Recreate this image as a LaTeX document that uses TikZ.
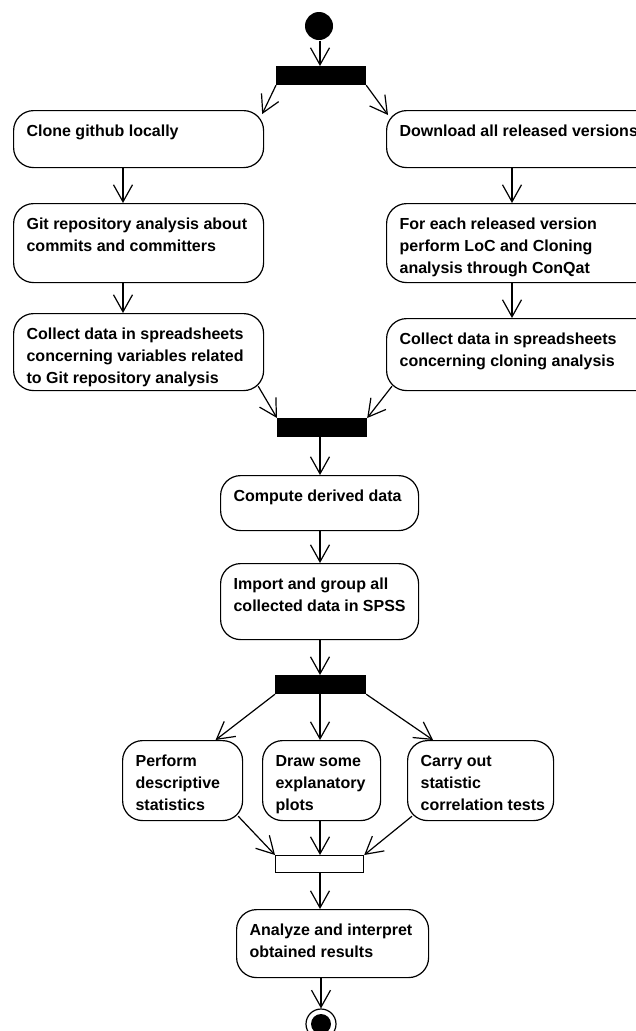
\documentclass[tikz,border=0pt]{standalone}
\usepackage{fontspec}
\setmainfont{Liberation Sans}
\usetikzlibrary{arrows.meta}

% top aligned text block of an action box: width, height, text
\newcommand{\acttext}[3]{\parbox[c][#2pt][t]{#1pt}{#3}}

\begin{document}
\begin{tikzpicture}[x=1pt,y=-1pt,line width=1.2pt,
		>={Straight Barb[length=17pt,width=19pt]},
		act/.style={draw, rounded corners=20pt, inner xsep=13pt, inner ysep=14.5pt,
			anchor=north west, font=\fontsize{16}{22}\selectfont\bfseries},
		bar/.style={draw, fill=black, minimum width=89pt, minimum height=18pt,
			inner sep=0pt, anchor=north west}]
		
		\useasboundingbox (0,0) rectangle (636,1031);
		
		% Columns of the vertical flows
		\coordinate (colL) at (123,0);
		\coordinate (colM) at (320,0);
		\coordinate (colR) at (512,0);
		
		% Start and first fork
		\node[circle, fill=black, minimum size=28pt, inner sep=0pt] (start) at (319,26) {};
		\node[bar] (bar1) at (276,66) {};
		
		% Left branch
		\node[act] (clone) at (13,110) {\acttext{224}{28}{Clone github locally}};
		\node[act] (git) at (13,203) {\acttext{224}{50}{Git repository analysis about\\commits and committers}};
		\node[act] (collectL) at (13,313) {\acttext{224}{48}{Collect data in spreadsheets\\concerning variables related\\to Git repository analysis}};
		
		% Right branch
		\node[act] (download) at (386,110) {\acttext{250}{28}{Download all released versions}};
		\node[act] (foreach) at (386,203) {\acttext{250}{50}{For each released version\\perform LoC and Cloning\\analysis through ConQat}};
		\node[act] (collectR) at (386,318) {\acttext{250}{43}{Collect data in spreadsheets\\concerning cloning analysis}};
		
		% Join and sequential part
		\node[bar, minimum width=89pt] (bar2) at (277,418) {};
		\node[act] (compute) at (220,475) {\acttext{172}{26}{Compute derived data}};
		\node[act] (import) at (220,563) {\acttext{172}{47}{Import and group all\\collected data in SPSS}};
		\node[bar, minimum width=90pt] (bar3) at (275,675) {};
		
		% Analyses
		\node[act] (perform) at (122,740) {\acttext{94}{51}{Perform\\descriptive\\statistics}};
		\node[act] (draw) at (262,740) {\acttext{92}{51}{Draw some\\explanatory\\plots}};
		\node[act] (carry) at (407,740) {\acttext{120}{51}{Carry out\\statistic\\\mbox{correlation tests}}};
		\node[bar, fill=white, minimum width=88pt, minimum height=17pt] (bar4) at (275,855) {};
		
		% Final action and end
		\node[act] (analyze) at (236,909) {\acttext{166}{39}{Analyze and interpret\\obtained results}};
		\node[circle, draw, minimum size=30pt, inner sep=0pt] (stop) at (321,1024) {};
		\node[circle, fill=black, minimum size=20pt, inner sep=0pt] (stopdot) at (stop.center) {};
		
		% Vertical flows
		\foreach \a/\b in {clone/git, git/collectL}
		\draw[->] (\a.south -| colL) -- (\b.north -| colL);
		\foreach \a/\b in {download/foreach, foreach/collectR}
		\draw[->] (\a.south -| colR) -- (\b.north -| colR);
		\foreach \a/\b in {start/bar1, bar2/compute, compute/import, import/bar3, bar3/draw, draw/bar4, bar4/analyze}
		\draw[->] (\a.south -| colM) -- (\b.north -| colM);
		\draw[->] (analyze.south -| stop) -- (stop.north);
		
		% Fork and join branches
		\draw[->] (bar1.south west) -- ([xshift=-2pt,yshift=-4pt]clone.north east);
		\draw[->] (bar1.south east) -- ([xshift=2pt,yshift=-5pt]download.north west);
		\draw[->] ([xshift=-6pt,yshift=5pt]collectL.south east) -- (bar2.north west);
		\draw[->] ([xshift=6pt,yshift=5pt]collectR.south west) -- (bar2.north east);
		\draw[->] (bar3.south west) -- ([xshift=33pt]perform.north);
		\draw[->] (bar3.south east) -- ([xshift=26pt]carry.north west);
		\draw[->] ([xshift=-5pt,yshift=5pt]perform.south east) -- (bar4.north west);
		\draw[->] ([xshift=5pt,yshift=5pt]carry.south west) -- (bar4.north east);
		
	\end{tikzpicture}
\end{document}
